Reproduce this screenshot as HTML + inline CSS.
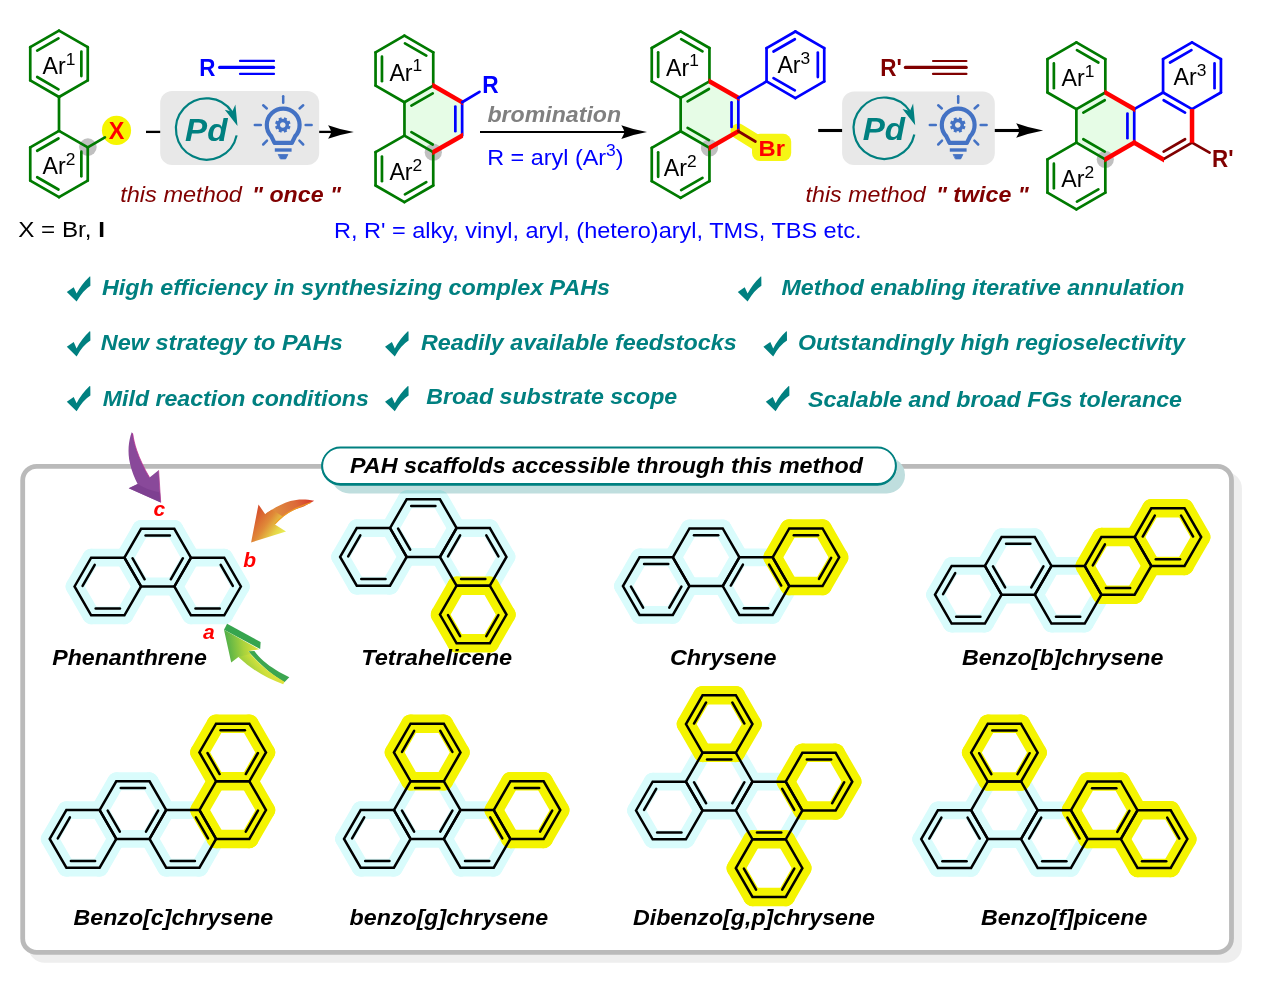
<!DOCTYPE html>
<html><head><meta charset="utf-8"><title>PAH annulation</title>
<style>
html,body{margin:0;padding:0;background:#fff;}
body{width:1266px;height:994px;overflow:hidden;font-family:"Liberation Sans",sans-serif;}
svg{display:block;}
text{white-space:pre;}
</style></head><body>
<svg width="1266" height="994" viewBox="0 0 1266 994">
<defs>
<linearGradient id="gOr" x1="1" y1="0" x2="0" y2="1"><stop offset="0" stop-color="#d8432a"/><stop offset="0.5" stop-color="#e58a30"/><stop offset="1" stop-color="#e8d53c"/></linearGradient>
<linearGradient id="gGr" x1="0" y1="0" x2="1" y2="1"><stop offset="0" stop-color="#3fa43c"/><stop offset="0.45" stop-color="#d6e23a"/><stop offset="1" stop-color="#2f9e44"/></linearGradient>
<linearGradient id="gPu" x1="0" y1="0" x2="1" y2="1"><stop offset="0" stop-color="#8a4a9a"/><stop offset="1" stop-color="#7d4390"/></linearGradient>
</defs>
<rect width="1266" height="994" fill="#fff"/>
<circle cx="87.9" cy="147.1" r="8.8" fill="#c0c0c0"/>
<circle cx="116.5" cy="130.4" r="14.6" fill="#f6f600"/>
<line x1="59" y1="30.6" x2="87.75" y2="47.2" stroke="#007a00" stroke-width="2.7" stroke-linecap="round" />
<line x1="87.75" y1="47.2" x2="87.75" y2="80.4" stroke="#007a00" stroke-width="2.7" stroke-linecap="round" />
<line x1="87.75" y1="80.4" x2="59" y2="97" stroke="#007a00" stroke-width="2.7" stroke-linecap="round" />
<line x1="59" y1="97" x2="30.25" y2="80.4" stroke="#007a00" stroke-width="2.7" stroke-linecap="round" />
<line x1="30.25" y1="80.4" x2="30.25" y2="47.2" stroke="#007a00" stroke-width="2.7" stroke-linecap="round" />
<line x1="30.25" y1="47.2" x2="59" y2="30.6" stroke="#007a00" stroke-width="2.7" stroke-linecap="round" />
<line x1="81.35" y1="51.52" x2="81.35" y2="76.08" stroke="#007a00" stroke-width="2.7" stroke-linecap="round" />
<line x1="58.46" y1="89.3" x2="37.19" y2="77.02" stroke="#007a00" stroke-width="2.7" stroke-linecap="round" />
<line x1="37.19" y1="50.58" x2="58.46" y2="38.3" stroke="#007a00" stroke-width="2.7" stroke-linecap="round" />
<line x1="59" y1="130.8" x2="87.75" y2="147.4" stroke="#007a00" stroke-width="2.7" stroke-linecap="round" />
<line x1="87.75" y1="147.4" x2="87.75" y2="180.6" stroke="#007a00" stroke-width="2.7" stroke-linecap="round" />
<line x1="87.75" y1="180.6" x2="59" y2="197.2" stroke="#007a00" stroke-width="2.7" stroke-linecap="round" />
<line x1="59" y1="197.2" x2="30.25" y2="180.6" stroke="#007a00" stroke-width="2.7" stroke-linecap="round" />
<line x1="30.25" y1="180.6" x2="30.25" y2="147.4" stroke="#007a00" stroke-width="2.7" stroke-linecap="round" />
<line x1="30.25" y1="147.4" x2="59" y2="130.8" stroke="#007a00" stroke-width="2.7" stroke-linecap="round" />
<line x1="81.35" y1="151.72" x2="81.35" y2="176.28" stroke="#007a00" stroke-width="2.7" stroke-linecap="round" />
<line x1="58.46" y1="189.5" x2="37.19" y2="177.22" stroke="#007a00" stroke-width="2.7" stroke-linecap="round" />
<line x1="37.19" y1="150.78" x2="58.46" y2="138.5" stroke="#007a00" stroke-width="2.7" stroke-linecap="round" />
<line x1="59" y1="97" x2="59" y2="130.8" stroke="#007a00" stroke-width="2.7" stroke-linecap="round" />
<line x1="87.75" y1="147.4" x2="104.9" y2="137.4" stroke="#007a00" stroke-width="2.7" stroke-linecap="round" />
<text x="116.55" y="139" font-family="Liberation Sans, sans-serif" font-size="23.4" fill="#ff0000" font-weight="bold" font-style="normal" text-anchor="middle" >X</text>
<text x="42.6" y="73.7" font-family="Liberation Sans, sans-serif" font-size="23.2" fill="#000">Ar<tspan dy="-9.2" font-size="17.4">1</tspan></text>
<text x="42.6" y="173.7" font-family="Liberation Sans, sans-serif" font-size="23.2" fill="#000">Ar<tspan dy="-9.2" font-size="17.4">2</tspan></text>
<text x="18.2" y="236.7" font-family="Liberation Sans, sans-serif" font-size="21.8" fill="#000" textLength="86.8" lengthAdjust="spacingAndGlyphs">X = Br, <tspan font-weight="bold">I</tspan></text>
<line x1="146" y1="131.9" x2="161" y2="131.9" stroke="#000" stroke-width="2.3" stroke-linecap="butt" />
<line x1="318" y1="131.9" x2="333" y2="131.9" stroke="#000" stroke-width="2.3" stroke-linecap="butt" />
<path d="M353.8,132 Q339.67,129.4 328.1,125.15 Q330.66,129.26 331.3,132 Q330.66,134.74 328.1,138.85 Q339.67,134.6 353.8,132 Z" fill="#000"/>
<rect x="160.2" y="91" width="159" height="73.9" rx="12" ry="12" fill="#e8e8e8"/>
<path d="M236.63,135.38 A30.7,30.7 0 1 1 232.35,112.28" fill="none" stroke="#008080" stroke-width="2.2"/>
<path d="M237.5,126 L235.4,104.4 L232.2,111.7 L224.8,109.8 Z" fill="#008080"/>
<text x="185" y="140.7" font-family="Liberation Sans, sans-serif" font-size="30.5" fill="#008080" font-weight="bold" font-style="italic" text-anchor="start"  textLength="42.4" lengthAdjust="spacingAndGlyphs">Pd</text>
<g transform="translate(283.2,124.1) scale(1.0)" fill="none" stroke="#4472c4" stroke-linecap="round">
<g stroke-width="2.5">
<line x1="0" y1="-27.8" x2="0" y2="-21.4"/>
<line x1="-20" y1="-18.8" x2="-16.4" y2="-15.6"/>
<line x1="20" y1="-18.8" x2="16.4" y2="-15.6"/>
<line x1="-28.4" y1="0.9" x2="-22.4" y2="0.9"/>
<line x1="28.4" y1="0.9" x2="22.4" y2="0.9"/>
<line x1="-20" y1="20.4" x2="-16.2" y2="16.6"/>
<line x1="20" y1="20.4" x2="16.2" y2="16.6"/>
</g>
<path d="M-8.7,18.8 L8.7,18.8 L11.9,12.2 A16.4,16.4 0 1 0 -11.9,12.2 Z" stroke-width="4.2" stroke-linejoin="round"/>
<line x1="-8.4" y1="25.9" x2="8.4" y2="25.9" stroke-width="3.4" stroke-linecap="butt"/>
<path d="M-4.7,30.4 L4.7,30.4 L2.5,34.8 L-2.5,34.8 Z" fill="#4472c4" stroke="#4472c4" stroke-width="0.8" stroke-linejoin="round"/>
<circle cx="-0.4" cy="0.9" r="4.5" stroke-width="3.4"/>
<line x1="4.59" y1="2.97" x2="6.81" y2="3.88" stroke-width="3.1" stroke-linecap="butt"/>
<line x1="1.67" y1="5.89" x2="2.58" y2="8.11" stroke-width="3.1" stroke-linecap="butt"/>
<line x1="-2.47" y1="5.89" x2="-3.38" y2="8.11" stroke-width="3.1" stroke-linecap="butt"/>
<line x1="-5.39" y1="2.97" x2="-7.61" y2="3.88" stroke-width="3.1" stroke-linecap="butt"/>
<line x1="-5.39" y1="-1.17" x2="-7.61" y2="-2.08" stroke-width="3.1" stroke-linecap="butt"/>
<line x1="-2.47" y1="-4.09" x2="-3.38" y2="-6.31" stroke-width="3.1" stroke-linecap="butt"/>
<line x1="1.67" y1="-4.09" x2="2.58" y2="-6.31" stroke-width="3.1" stroke-linecap="butt"/>
<line x1="4.59" y1="-1.17" x2="6.81" y2="-2.08" stroke-width="3.1" stroke-linecap="butt"/>
</g>
<text x="199.2" y="75.7" font-family="Liberation Sans, sans-serif" font-size="24" fill="#0000ff" font-weight="bold" font-style="normal" text-anchor="start"  textLength="16.2" lengthAdjust="spacingAndGlyphs">R</text>
<line x1="219.6" y1="67.4" x2="273.6" y2="67.4" stroke="#0000ff" stroke-width="3.1" stroke-linecap="round" />
<line x1="240" y1="60.9" x2="274" y2="60.9" stroke="#0000ff" stroke-width="2.2" stroke-linecap="round" />
<line x1="240" y1="73.9" x2="274" y2="73.9" stroke="#0000ff" stroke-width="2.2" stroke-linecap="round" />
<text x="120.2" y="202.2" font-family="Liberation Sans, sans-serif" font-size="21.5" fill="#800000" font-weight="normal" font-style="italic" text-anchor="start"  textLength="121.8" lengthAdjust="spacingAndGlyphs">this method</text>
<text x="252" y="202.2" font-family="Liberation Sans, sans-serif" font-size="21.5" fill="#800000" font-weight="bold" font-style="italic" text-anchor="start"  textLength="89" lengthAdjust="spacingAndGlyphs">" once "</text>
<polygon points="433.3,85.6 462.14,102.25 462.14,135.55 433.3,152.2 404.46,135.55 404.46,102.25" fill="#e6fce6"/>
<circle cx="433.3" cy="152.2" r="8.6" fill="#c0c0c0"/>
<line x1="404.4" y1="35.65" x2="433.24" y2="52.3" stroke="#007a00" stroke-width="2.7" stroke-linecap="round" />
<line x1="433.24" y1="52.3" x2="433.24" y2="85.6" stroke="#007a00" stroke-width="2.7" stroke-linecap="round" />
<line x1="433.24" y1="85.6" x2="404.4" y2="102.25" stroke="#007a00" stroke-width="2.7" stroke-linecap="round" />
<line x1="404.4" y1="102.25" x2="375.56" y2="85.6" stroke="#007a00" stroke-width="2.7" stroke-linecap="round" />
<line x1="375.56" y1="85.6" x2="375.56" y2="52.3" stroke="#007a00" stroke-width="2.7" stroke-linecap="round" />
<line x1="375.56" y1="52.3" x2="404.4" y2="35.65" stroke="#007a00" stroke-width="2.7" stroke-linecap="round" />
<line x1="404.95" y1="43.36" x2="426.29" y2="55.68" stroke="#007a00" stroke-width="2.7" stroke-linecap="round" />
<line x1="381.96" y1="81.27" x2="381.96" y2="56.63" stroke="#007a00" stroke-width="2.7" stroke-linecap="round" />
<line x1="404.4" y1="135.55" x2="433.24" y2="152.2" stroke="#007a00" stroke-width="2.7" stroke-linecap="round" />
<line x1="433.24" y1="152.2" x2="433.24" y2="185.5" stroke="#007a00" stroke-width="2.7" stroke-linecap="round" />
<line x1="433.24" y1="185.5" x2="404.4" y2="202.15" stroke="#007a00" stroke-width="2.7" stroke-linecap="round" />
<line x1="404.4" y1="202.15" x2="375.56" y2="185.5" stroke="#007a00" stroke-width="2.7" stroke-linecap="round" />
<line x1="375.56" y1="185.5" x2="375.56" y2="152.2" stroke="#007a00" stroke-width="2.7" stroke-linecap="round" />
<line x1="375.56" y1="152.2" x2="404.4" y2="135.55" stroke="#007a00" stroke-width="2.7" stroke-linecap="round" />
<line x1="426.29" y1="182.12" x2="404.95" y2="194.44" stroke="#007a00" stroke-width="2.7" stroke-linecap="round" />
<line x1="381.96" y1="181.17" x2="381.96" y2="156.53" stroke="#007a00" stroke-width="2.7" stroke-linecap="round" />
<line x1="404.46" y1="135.55" x2="404.46" y2="102.25" stroke="#007a00" stroke-width="2.7" stroke-linecap="round" />
<line x1="411.41" y1="105.63" x2="432.75" y2="93.31" stroke="#007a00" stroke-width="2.7" stroke-linecap="round" />
<line x1="432.75" y1="144.49" x2="411.41" y2="132.17" stroke="#007a00" stroke-width="2.7" stroke-linecap="round" />
<line x1="462.14" y1="102.25" x2="462.14" y2="135.55" stroke="#0000ff" stroke-width="2.7" stroke-linecap="round" />
<line x1="455.34" y1="106.58" x2="455.34" y2="131.22" stroke="#0000ff" stroke-width="2.7" stroke-linecap="round" />
<polygon points="432.4,82.48 463.04,100.17 463.04,105.37 432.4,87.68" fill="#ff0000"/>
<polygon points="463.04,132.43 432.4,150.12 432.4,155.32 463.04,137.63" fill="#ff0000"/>
<line x1="462.14" y1="102.25" x2="479.5" y2="91.8" stroke="#0000ff" stroke-width="2.7" stroke-linecap="round" />
<text x="482.2" y="93.4" font-family="Liberation Sans, sans-serif" font-size="24" fill="#0000ff" font-weight="bold" font-style="normal" text-anchor="start"  textLength="16.4" lengthAdjust="spacingAndGlyphs">R</text>
<text x="389.4" y="80.5" font-family="Liberation Sans, sans-serif" font-size="23.2" fill="#000">Ar<tspan dy="-9.2" font-size="17.4">1</tspan></text>
<text x="389.4" y="180" font-family="Liberation Sans, sans-serif" font-size="23.2" fill="#000">Ar<tspan dy="-9.2" font-size="17.4">2</tspan></text>
<line x1="480" y1="132" x2="626" y2="132" stroke="#000" stroke-width="2.2" stroke-linecap="butt" />
<path d="M647,132.1 Q632.87,129.5 621.3,125.25 Q623.86,129.36 624.5,132.1 Q623.86,134.84 621.3,138.95 Q632.87,134.7 647,132.1 Z" fill="#000"/>
<text x="487.5" y="121.7" font-family="Liberation Sans, sans-serif" font-size="21.3" fill="#808080" font-weight="bold" font-style="italic" text-anchor="start"  textLength="133.6" lengthAdjust="spacingAndGlyphs">bromination</text>
<text x="487.2" y="164.9" font-family="Liberation Sans, sans-serif" font-size="22.3" fill="#0000ff" textLength="136.4" lengthAdjust="spacingAndGlyphs">R = aryl (Ar<tspan dy="-8.6" font-size="16.6">3</tspan><tspan dy="8.6">)</tspan></text>
<polygon points="709.5,81.3 738.34,97.95 738.34,131.25 709.5,147.9 680.66,131.25 680.66,97.95" fill="#e6fce6"/>
<line x1="738.34" y1="131.25" x2="762" y2="146" stroke="#f6f614" stroke-width="15.5" stroke-linecap="round"/>
<rect x="752" y="133.8" width="39.2" height="27.2" rx="8" ry="8" fill="#f6f614"/>
<circle cx="709.5" cy="147.9" r="8.6" fill="#c0c0c0"/>
<line x1="680.6" y1="31.35" x2="709.44" y2="48" stroke="#007a00" stroke-width="2.7" stroke-linecap="round" />
<line x1="709.44" y1="48" x2="709.44" y2="81.3" stroke="#007a00" stroke-width="2.7" stroke-linecap="round" />
<line x1="709.44" y1="81.3" x2="680.6" y2="97.95" stroke="#007a00" stroke-width="2.7" stroke-linecap="round" />
<line x1="680.6" y1="97.95" x2="651.76" y2="81.3" stroke="#007a00" stroke-width="2.7" stroke-linecap="round" />
<line x1="651.76" y1="81.3" x2="651.76" y2="48" stroke="#007a00" stroke-width="2.7" stroke-linecap="round" />
<line x1="651.76" y1="48" x2="680.6" y2="31.35" stroke="#007a00" stroke-width="2.7" stroke-linecap="round" />
<line x1="681.15" y1="39.06" x2="702.49" y2="51.38" stroke="#007a00" stroke-width="2.7" stroke-linecap="round" />
<line x1="658.16" y1="76.97" x2="658.16" y2="52.33" stroke="#007a00" stroke-width="2.7" stroke-linecap="round" />
<line x1="680.6" y1="131.25" x2="709.44" y2="147.9" stroke="#007a00" stroke-width="2.7" stroke-linecap="round" />
<line x1="709.44" y1="147.9" x2="709.44" y2="181.2" stroke="#007a00" stroke-width="2.7" stroke-linecap="round" />
<line x1="709.44" y1="181.2" x2="680.6" y2="197.85" stroke="#007a00" stroke-width="2.7" stroke-linecap="round" />
<line x1="680.6" y1="197.85" x2="651.76" y2="181.2" stroke="#007a00" stroke-width="2.7" stroke-linecap="round" />
<line x1="651.76" y1="181.2" x2="651.76" y2="147.9" stroke="#007a00" stroke-width="2.7" stroke-linecap="round" />
<line x1="651.76" y1="147.9" x2="680.6" y2="131.25" stroke="#007a00" stroke-width="2.7" stroke-linecap="round" />
<line x1="702.49" y1="177.82" x2="681.15" y2="190.14" stroke="#007a00" stroke-width="2.7" stroke-linecap="round" />
<line x1="658.16" y1="176.87" x2="658.16" y2="152.23" stroke="#007a00" stroke-width="2.7" stroke-linecap="round" />
<line x1="680.66" y1="131.25" x2="680.66" y2="97.95" stroke="#007a00" stroke-width="2.7" stroke-linecap="round" />
<line x1="687.61" y1="101.33" x2="708.95" y2="89.01" stroke="#007a00" stroke-width="2.7" stroke-linecap="round" />
<line x1="708.95" y1="140.19" x2="687.61" y2="127.87" stroke="#007a00" stroke-width="2.7" stroke-linecap="round" />
<line x1="738.34" y1="97.95" x2="738.34" y2="131.25" stroke="#0000ff" stroke-width="2.7" stroke-linecap="round" />
<line x1="731.54" y1="102.28" x2="731.54" y2="126.92" stroke="#0000ff" stroke-width="2.7" stroke-linecap="round" />
<polygon points="708.6,78.18 739.24,95.87 739.24,101.07 708.6,83.38" fill="#ff0000"/>
<polygon points="739.24,128.13 708.6,145.82 708.6,151.02 739.24,133.33" fill="#ff0000"/>
<line x1="738.34" y1="131.25" x2="755.4" y2="141.5" stroke="#800000" stroke-width="2.7" stroke-linecap="round" />
<text x="758.6" y="155.9" font-family="Liberation Sans, sans-serif" font-size="22.6" fill="#ff0000" font-weight="bold" font-style="normal" text-anchor="start"  textLength="26.4" lengthAdjust="spacingAndGlyphs">Br</text>
<line x1="795.4" y1="31.5" x2="824.24" y2="48.15" stroke="#0000ff" stroke-width="2.7" stroke-linecap="round" />
<line x1="824.24" y1="48.15" x2="824.24" y2="81.45" stroke="#0000ff" stroke-width="2.7" stroke-linecap="round" />
<line x1="824.24" y1="81.45" x2="795.4" y2="98.1" stroke="#0000ff" stroke-width="2.7" stroke-linecap="round" />
<line x1="795.4" y1="98.1" x2="766.56" y2="81.45" stroke="#0000ff" stroke-width="2.7" stroke-linecap="round" />
<line x1="766.56" y1="81.45" x2="766.56" y2="48.15" stroke="#0000ff" stroke-width="2.7" stroke-linecap="round" />
<line x1="766.56" y1="48.15" x2="795.4" y2="31.5" stroke="#0000ff" stroke-width="2.7" stroke-linecap="round" />
<line x1="817.84" y1="52.48" x2="817.84" y2="77.12" stroke="#0000ff" stroke-width="2.7" stroke-linecap="round" />
<line x1="794.85" y1="90.39" x2="773.51" y2="78.07" stroke="#0000ff" stroke-width="2.7" stroke-linecap="round" />
<line x1="773.51" y1="51.53" x2="794.85" y2="39.21" stroke="#0000ff" stroke-width="2.7" stroke-linecap="round" />
<line x1="738.34" y1="97.95" x2="766.56" y2="81.45" stroke="#0000ff" stroke-width="2.7" stroke-linecap="round" />
<text x="666.1" y="75.5" font-family="Liberation Sans, sans-serif" font-size="23.2" fill="#000">Ar<tspan dy="-9.2" font-size="17.4">1</tspan></text>
<text x="663.8" y="175.8" font-family="Liberation Sans, sans-serif" font-size="23.2" fill="#000">Ar<tspan dy="-9.2" font-size="17.4">2</tspan></text>
<text x="777.4" y="73.2" font-family="Liberation Sans, sans-serif" font-size="23.2" fill="#000">Ar<tspan dy="-9.2" font-size="17.4">3</tspan></text>
<line x1="818.2" y1="130.5" x2="843" y2="130.5" stroke="#000" stroke-width="3.1" stroke-linecap="butt" />
<line x1="994" y1="130.5" x2="1021" y2="130.5" stroke="#000" stroke-width="3.1" stroke-linecap="butt" />
<path d="M1043.2,130.5 Q1028.35,127.73 1016.2,123.2 Q1018.84,127.58 1019.5,130.5 Q1018.84,133.42 1016.2,137.8 Q1028.35,133.27 1043.2,130.5 Z" fill="#000"/>
<rect x="842.1" y="91.5" width="152.7" height="73.4" rx="12" ry="12" fill="#e8e8e8"/>
<path d="M914.33,134.58 A30.7,30.7 0 1 1 910.05,111.48" fill="none" stroke="#008080" stroke-width="2.2"/>
<path d="M915.2,125.2 L913.1,103.6 L909.9,110.9 L902.5,109 Z" fill="#008080"/>
<text x="862.7" y="139.9" font-family="Liberation Sans, sans-serif" font-size="30.5" fill="#008080" font-weight="bold" font-style="italic" text-anchor="start"  textLength="42.4" lengthAdjust="spacingAndGlyphs">Pd</text>
<g transform="translate(958.2,124.1) scale(1.0)" fill="none" stroke="#4472c4" stroke-linecap="round">
<g stroke-width="2.5">
<line x1="0" y1="-27.8" x2="0" y2="-21.4"/>
<line x1="-20" y1="-18.8" x2="-16.4" y2="-15.6"/>
<line x1="20" y1="-18.8" x2="16.4" y2="-15.6"/>
<line x1="-28.4" y1="0.9" x2="-22.4" y2="0.9"/>
<line x1="28.4" y1="0.9" x2="22.4" y2="0.9"/>
<line x1="-20" y1="20.4" x2="-16.2" y2="16.6"/>
<line x1="20" y1="20.4" x2="16.2" y2="16.6"/>
</g>
<path d="M-8.7,18.8 L8.7,18.8 L11.9,12.2 A16.4,16.4 0 1 0 -11.9,12.2 Z" stroke-width="4.2" stroke-linejoin="round"/>
<line x1="-8.4" y1="25.9" x2="8.4" y2="25.9" stroke-width="3.4" stroke-linecap="butt"/>
<path d="M-4.7,30.4 L4.7,30.4 L2.5,34.8 L-2.5,34.8 Z" fill="#4472c4" stroke="#4472c4" stroke-width="0.8" stroke-linejoin="round"/>
<circle cx="-0.4" cy="0.9" r="4.5" stroke-width="3.4"/>
<line x1="4.59" y1="2.97" x2="6.81" y2="3.88" stroke-width="3.1" stroke-linecap="butt"/>
<line x1="1.67" y1="5.89" x2="2.58" y2="8.11" stroke-width="3.1" stroke-linecap="butt"/>
<line x1="-2.47" y1="5.89" x2="-3.38" y2="8.11" stroke-width="3.1" stroke-linecap="butt"/>
<line x1="-5.39" y1="2.97" x2="-7.61" y2="3.88" stroke-width="3.1" stroke-linecap="butt"/>
<line x1="-5.39" y1="-1.17" x2="-7.61" y2="-2.08" stroke-width="3.1" stroke-linecap="butt"/>
<line x1="-2.47" y1="-4.09" x2="-3.38" y2="-6.31" stroke-width="3.1" stroke-linecap="butt"/>
<line x1="1.67" y1="-4.09" x2="2.58" y2="-6.31" stroke-width="3.1" stroke-linecap="butt"/>
<line x1="4.59" y1="-1.17" x2="6.81" y2="-2.08" stroke-width="3.1" stroke-linecap="butt"/>
</g>
<text x="880.2" y="75.9" font-family="Liberation Sans, sans-serif" font-size="24" fill="#800000" font-weight="bold" font-style="normal" text-anchor="start"  textLength="21.6" lengthAdjust="spacingAndGlyphs">R'</text>
<line x1="905.4" y1="67.4" x2="966.2" y2="67.4" stroke="#800000" stroke-width="3.2" stroke-linecap="round" />
<line x1="933" y1="61" x2="966.4" y2="61" stroke="#800000" stroke-width="2.2" stroke-linecap="round" />
<line x1="933" y1="73.9" x2="966.4" y2="73.9" stroke="#800000" stroke-width="2.2" stroke-linecap="round" />
<text x="805.6" y="201.5" font-family="Liberation Sans, sans-serif" font-size="21.5" fill="#800000" font-weight="normal" font-style="italic" text-anchor="start"  textLength="120" lengthAdjust="spacingAndGlyphs">this method</text>
<text x="935.9" y="201.5" font-family="Liberation Sans, sans-serif" font-size="21.5" fill="#800000" font-weight="bold" font-style="italic" text-anchor="start"  textLength="92.8" lengthAdjust="spacingAndGlyphs">" twice "</text>
<polygon points="1105.3,92.5 1134.23,109.2 1134.23,142.6 1105.3,159.3 1076.37,142.6 1076.37,109.2" fill="#e6fce6"/>
<circle cx="1105.3" cy="159.3" r="8.6" fill="#c0c0c0"/>
<line x1="1076.4" y1="42.4" x2="1105.33" y2="59.1" stroke="#007a00" stroke-width="2.7" stroke-linecap="round" />
<line x1="1105.33" y1="59.1" x2="1105.33" y2="92.5" stroke="#007a00" stroke-width="2.7" stroke-linecap="round" />
<line x1="1105.33" y1="92.5" x2="1076.4" y2="109.2" stroke="#007a00" stroke-width="2.7" stroke-linecap="round" />
<line x1="1076.4" y1="109.2" x2="1047.47" y2="92.5" stroke="#007a00" stroke-width="2.7" stroke-linecap="round" />
<line x1="1047.47" y1="92.5" x2="1047.47" y2="59.1" stroke="#007a00" stroke-width="2.7" stroke-linecap="round" />
<line x1="1047.47" y1="59.1" x2="1076.4" y2="42.4" stroke="#007a00" stroke-width="2.7" stroke-linecap="round" />
<line x1="1076.96" y1="50.11" x2="1098.36" y2="62.47" stroke="#007a00" stroke-width="2.7" stroke-linecap="round" />
<line x1="1053.87" y1="88.16" x2="1053.87" y2="63.44" stroke="#007a00" stroke-width="2.7" stroke-linecap="round" />
<line x1="1076.4" y1="142.6" x2="1105.33" y2="159.3" stroke="#007a00" stroke-width="2.7" stroke-linecap="round" />
<line x1="1105.33" y1="159.3" x2="1105.33" y2="192.7" stroke="#007a00" stroke-width="2.7" stroke-linecap="round" />
<line x1="1105.33" y1="192.7" x2="1076.4" y2="209.4" stroke="#007a00" stroke-width="2.7" stroke-linecap="round" />
<line x1="1076.4" y1="209.4" x2="1047.47" y2="192.7" stroke="#007a00" stroke-width="2.7" stroke-linecap="round" />
<line x1="1047.47" y1="192.7" x2="1047.47" y2="159.3" stroke="#007a00" stroke-width="2.7" stroke-linecap="round" />
<line x1="1047.47" y1="159.3" x2="1076.4" y2="142.6" stroke="#007a00" stroke-width="2.7" stroke-linecap="round" />
<line x1="1098.36" y1="189.33" x2="1076.96" y2="201.69" stroke="#007a00" stroke-width="2.7" stroke-linecap="round" />
<line x1="1053.87" y1="188.36" x2="1053.87" y2="163.64" stroke="#007a00" stroke-width="2.7" stroke-linecap="round" />
<line x1="1076.37" y1="142.6" x2="1076.37" y2="109.2" stroke="#007a00" stroke-width="2.7" stroke-linecap="round" />
<line x1="1083.34" y1="112.57" x2="1104.74" y2="100.21" stroke="#007a00" stroke-width="2.7" stroke-linecap="round" />
<line x1="1104.74" y1="151.59" x2="1083.34" y2="139.23" stroke="#007a00" stroke-width="2.7" stroke-linecap="round" />
<line x1="1192" y1="42.4" x2="1220.93" y2="59.1" stroke="#0000ff" stroke-width="2.7" stroke-linecap="round" />
<line x1="1220.93" y1="59.1" x2="1220.93" y2="92.5" stroke="#0000ff" stroke-width="2.7" stroke-linecap="round" />
<line x1="1220.93" y1="92.5" x2="1192" y2="109.2" stroke="#0000ff" stroke-width="2.7" stroke-linecap="round" />
<line x1="1192" y1="109.2" x2="1163.07" y2="92.5" stroke="#0000ff" stroke-width="2.7" stroke-linecap="round" />
<line x1="1163.07" y1="92.5" x2="1163.07" y2="59.1" stroke="#0000ff" stroke-width="2.7" stroke-linecap="round" />
<line x1="1163.07" y1="59.1" x2="1192" y2="42.4" stroke="#0000ff" stroke-width="2.7" stroke-linecap="round" />
<line x1="1214.53" y1="63.44" x2="1214.53" y2="88.16" stroke="#0000ff" stroke-width="2.7" stroke-linecap="round" />
<line x1="1170.04" y1="62.47" x2="1191.44" y2="50.11" stroke="#0000ff" stroke-width="2.7" stroke-linecap="round" />
<line x1="1134.23" y1="109.2" x2="1134.23" y2="142.6" stroke="#0000ff" stroke-width="2.7" stroke-linecap="round" />
<line x1="1127.43" y1="113.54" x2="1127.43" y2="138.26" stroke="#0000ff" stroke-width="2.7" stroke-linecap="round" />
<line x1="1134.17" y1="109.2" x2="1163.1" y2="92.5" stroke="#0000ff" stroke-width="2.7" stroke-linecap="round" />
<line x1="1163.66" y1="100.21" x2="1185.06" y2="112.57" stroke="#0000ff" stroke-width="2.7" stroke-linecap="round" />
<line x1="1192.03" y1="142.6" x2="1163.1" y2="159.3" stroke="#800000" stroke-width="2.7" stroke-linecap="round" />
<line x1="1185.06" y1="139.23" x2="1163.66" y2="151.59" stroke="#800000" stroke-width="2.7" stroke-linecap="round" />
<line x1="1192.03" y1="142.6" x2="1209.6" y2="152.7" stroke="#800000" stroke-width="2.7" stroke-linecap="round" />
<polygon points="1104.4,89.38 1135.13,107.12 1135.13,112.32 1104.4,94.58" fill="#ff0000"/>
<polygon points="1135.13,139.48 1104.4,157.22 1104.4,162.42 1135.13,144.68" fill="#ff0000"/>
<polygon points="1164,157.22 1133.27,139.48 1133.27,144.68 1164,162.42" fill="#ff0000"/>
<line x1="1192.03" y1="109" x2="1192.03" y2="142.8" stroke="#ff0000" stroke-width="4.5" stroke-linecap="butt" />
<text x="1212.1" y="166.9" font-family="Liberation Sans, sans-serif" font-size="23" fill="#800000" font-weight="bold" font-style="normal" text-anchor="start"  textLength="21.5" lengthAdjust="spacingAndGlyphs">R'</text>
<text x="1061.6" y="85.9" font-family="Liberation Sans, sans-serif" font-size="23.2" fill="#000">Ar<tspan dy="-9.2" font-size="17.4">1</tspan></text>
<text x="1061.2" y="186.9" font-family="Liberation Sans, sans-serif" font-size="23.2" fill="#000">Ar<tspan dy="-9.2" font-size="17.4">2</tspan></text>
<text x="1173.5" y="84.8" font-family="Liberation Sans, sans-serif" font-size="23.2" fill="#000">Ar<tspan dy="-9.2" font-size="17.4">3</tspan></text>
<text x="334" y="237.7" font-family="Liberation Sans, sans-serif" font-size="21.7" fill="#0000ff" font-weight="normal" font-style="normal" text-anchor="start"  textLength="527.5" lengthAdjust="spacingAndGlyphs">R, R' = alky, vinyl, aryl, (hetero)aryl, TMS, TBS etc.</text>
<path transform="translate(66.8,276.6) scale(1.0)" d="M0,15.4 L6.9,10.6 L9.8,17 Q14.6,7.6 22.9,-0.2 L23.5,0 L23.6,9.2 Q16.4,13.6 9.8,25 Z" fill="#008080"/>
<text x="102" y="294.8" font-family="Liberation Sans, sans-serif" font-size="22" fill="#008080" font-weight="bold" font-style="italic" text-anchor="start"  textLength="508" lengthAdjust="spacingAndGlyphs">High efficiency in synthesizing complex PAHs</text>
<path transform="translate(737.8,276.6) scale(1.0)" d="M0,15.4 L6.9,10.6 L9.8,17 Q14.6,7.6 22.9,-0.2 L23.5,0 L23.6,9.2 Q16.4,13.6 9.8,25 Z" fill="#008080"/>
<text x="781.5" y="294.8" font-family="Liberation Sans, sans-serif" font-size="22" fill="#008080" font-weight="bold" font-style="italic" text-anchor="start"  textLength="403" lengthAdjust="spacingAndGlyphs">Method enabling iterative annulation</text>
<path transform="translate(66.8,331.4) scale(1.0)" d="M0,15.4 L6.9,10.6 L9.8,17 Q14.6,7.6 22.9,-0.2 L23.5,0 L23.6,9.2 Q16.4,13.6 9.8,25 Z" fill="#008080"/>
<text x="100.8" y="349.6" font-family="Liberation Sans, sans-serif" font-size="22" fill="#008080" font-weight="bold" font-style="italic" text-anchor="start"  textLength="242" lengthAdjust="spacingAndGlyphs">New strategy to PAHs</text>
<path transform="translate(385,331.4) scale(1.0)" d="M0,15.4 L6.9,10.6 L9.8,17 Q14.6,7.6 22.9,-0.2 L23.5,0 L23.6,9.2 Q16.4,13.6 9.8,25 Z" fill="#008080"/>
<text x="421" y="349.6" font-family="Liberation Sans, sans-serif" font-size="22" fill="#008080" font-weight="bold" font-style="italic" text-anchor="start"  textLength="315.6" lengthAdjust="spacingAndGlyphs">Readily available feedstocks</text>
<path transform="translate(763.4,331.4) scale(1.0)" d="M0,15.4 L6.9,10.6 L9.8,17 Q14.6,7.6 22.9,-0.2 L23.5,0 L23.6,9.2 Q16.4,13.6 9.8,25 Z" fill="#008080"/>
<text x="797.9" y="349.6" font-family="Liberation Sans, sans-serif" font-size="22" fill="#008080" font-weight="bold" font-style="italic" text-anchor="start"  textLength="387" lengthAdjust="spacingAndGlyphs">Outstandingly high regioselectivity</text>
<path transform="translate(66.8,386.3) scale(1.0)" d="M0,15.4 L6.9,10.6 L9.8,17 Q14.6,7.6 22.9,-0.2 L23.5,0 L23.6,9.2 Q16.4,13.6 9.8,25 Z" fill="#008080"/>
<text x="102.8" y="406" font-family="Liberation Sans, sans-serif" font-size="22" fill="#008080" font-weight="bold" font-style="italic" text-anchor="start"  textLength="266" lengthAdjust="spacingAndGlyphs">Mild reaction conditions</text>
<path transform="translate(385,386.3) scale(1.0)" d="M0,15.4 L6.9,10.6 L9.8,17 Q14.6,7.6 22.9,-0.2 L23.5,0 L23.6,9.2 Q16.4,13.6 9.8,25 Z" fill="#008080"/>
<text x="426.2" y="403.7" font-family="Liberation Sans, sans-serif" font-size="22" fill="#008080" font-weight="bold" font-style="italic" text-anchor="start"  textLength="251" lengthAdjust="spacingAndGlyphs">Broad substrate scope</text>
<path transform="translate(765.8,386.3) scale(1.0)" d="M0,15.4 L6.9,10.6 L9.8,17 Q14.6,7.6 22.9,-0.2 L23.5,0 L23.6,9.2 Q16.4,13.6 9.8,25 Z" fill="#008080"/>
<text x="808" y="406.7" font-family="Liberation Sans, sans-serif" font-size="22" fill="#008080" font-weight="bold" font-style="italic" text-anchor="start"  textLength="374" lengthAdjust="spacingAndGlyphs">Scalable and broad FGs tolerance</text>
<rect x="28.3" y="471.9" width="1213.6" height="490.9" rx="16.4" ry="16.4" fill="#eeeeee"/>
<rect x="22.7" y="466.3" width="1208.8" height="486.1" rx="14" ry="14" fill="#fff" stroke="#bababa" stroke-width="4.8"/>
<rect x="331" y="456.8" width="574" height="36.6" rx="18.3" ry="18.3" fill="#bfdede"/>
<rect x="322.2" y="448.4" width="573.6" height="36.4" rx="18.2" ry="18.2" fill="#008080" stroke="#008080" stroke-width="1.8"/>
<rect x="322.2" y="447.5" width="573.6" height="36.4" rx="18.2" ry="18.2" fill="#fff" stroke="#008080" stroke-width="1.8"/>
<text x="350" y="473.2" font-family="Liberation Sans, sans-serif" font-size="21.3" fill="#000" font-weight="bold" font-style="italic" text-anchor="start"  textLength="513" lengthAdjust="spacingAndGlyphs">PAH scaffolds accessible through this method</text>
<g style="mix-blend-mode:multiply">
<line x1="74.53" y1="586.5" x2="91.16" y2="557.69" stroke="#d9fcfc" stroke-width="17.8" stroke-linecap="round" />
<line x1="91.16" y1="557.69" x2="124.44" y2="557.69" stroke="#d9fcfc" stroke-width="17.8" stroke-linecap="round" />
<line x1="124.44" y1="557.69" x2="141.07" y2="586.5" stroke="#d9fcfc" stroke-width="17.8" stroke-linecap="round" />
<line x1="141.07" y1="586.5" x2="124.43" y2="615.31" stroke="#d9fcfc" stroke-width="17.8" stroke-linecap="round" />
<line x1="124.43" y1="615.31" x2="91.17" y2="615.31" stroke="#d9fcfc" stroke-width="17.8" stroke-linecap="round" />
<line x1="91.17" y1="615.31" x2="74.53" y2="586.5" stroke="#d9fcfc" stroke-width="17.8" stroke-linecap="round" />
<line x1="124.43" y1="557.69" x2="141.07" y2="528.87" stroke="#d9fcfc" stroke-width="17.8" stroke-linecap="round" />
<line x1="141.07" y1="528.87" x2="174.34" y2="528.87" stroke="#d9fcfc" stroke-width="17.8" stroke-linecap="round" />
<line x1="174.34" y1="528.87" x2="190.97" y2="557.69" stroke="#d9fcfc" stroke-width="17.8" stroke-linecap="round" />
<line x1="190.97" y1="557.69" x2="174.34" y2="586.5" stroke="#d9fcfc" stroke-width="17.8" stroke-linecap="round" />
<line x1="174.34" y1="586.5" x2="141.07" y2="586.5" stroke="#d9fcfc" stroke-width="17.8" stroke-linecap="round" />
<line x1="190.97" y1="557.69" x2="224.25" y2="557.69" stroke="#d9fcfc" stroke-width="17.8" stroke-linecap="round" />
<line x1="224.25" y1="557.69" x2="240.88" y2="586.5" stroke="#d9fcfc" stroke-width="17.8" stroke-linecap="round" />
<line x1="240.88" y1="586.5" x2="224.25" y2="615.31" stroke="#d9fcfc" stroke-width="17.8" stroke-linecap="round" />
<line x1="224.25" y1="615.31" x2="190.98" y2="615.31" stroke="#d9fcfc" stroke-width="17.8" stroke-linecap="round" />
<line x1="190.98" y1="615.31" x2="174.34" y2="586.5" stroke="#d9fcfc" stroke-width="17.8" stroke-linecap="round" />
</g>
<polygon points="74.53,586.5 91.16,557.69 124.44,557.69 141.07,586.5 124.43,615.31 91.17,615.31" fill="none" stroke="#000" stroke-width="2.5" stroke-linejoin="miter"/>
<polygon points="124.43,557.69 141.07,528.87 174.34,528.87 190.97,557.69 174.34,586.5 141.07,586.5" fill="none" stroke="#000" stroke-width="2.5" stroke-linejoin="miter"/>
<polygon points="174.34,586.5 190.97,557.69 224.25,557.69 240.88,586.5 224.25,615.31 190.98,615.31" fill="none" stroke="#000" stroke-width="2.5" stroke-linejoin="miter"/>
<line x1="82.58" y1="585.96" x2="94.72" y2="564.93" stroke="#000" stroke-width="2.5" stroke-linecap="round" />
<line x1="119.94" y1="608.61" x2="95.66" y2="608.61" stroke="#000" stroke-width="2.5" stroke-linecap="round" />
<line x1="144.63" y1="579.26" x2="132.48" y2="558.23" stroke="#000" stroke-width="2.5" stroke-linecap="round" />
<line x1="145.56" y1="535.57" x2="169.85" y2="535.57" stroke="#000" stroke-width="2.5" stroke-linecap="round" />
<line x1="182.93" y1="558.23" x2="170.78" y2="579.26" stroke="#000" stroke-width="2.5" stroke-linecap="round" />
<line x1="220.69" y1="564.93" x2="232.83" y2="585.96" stroke="#000" stroke-width="2.5" stroke-linecap="round" />
<line x1="219.75" y1="608.61" x2="195.47" y2="608.61" stroke="#000" stroke-width="2.5" stroke-linecap="round" />
<g style="mix-blend-mode:multiply">
<line x1="340.13" y1="556.9" x2="356.76" y2="528.09" stroke="#d9fcfc" stroke-width="17.8" stroke-linecap="round" />
<line x1="356.76" y1="528.09" x2="390.03" y2="528.09" stroke="#d9fcfc" stroke-width="17.8" stroke-linecap="round" />
<line x1="390.03" y1="528.09" x2="406.67" y2="556.9" stroke="#d9fcfc" stroke-width="17.8" stroke-linecap="round" />
<line x1="406.67" y1="556.9" x2="390.03" y2="585.71" stroke="#d9fcfc" stroke-width="17.8" stroke-linecap="round" />
<line x1="390.03" y1="585.71" x2="356.76" y2="585.71" stroke="#d9fcfc" stroke-width="17.8" stroke-linecap="round" />
<line x1="356.76" y1="585.71" x2="340.13" y2="556.9" stroke="#d9fcfc" stroke-width="17.8" stroke-linecap="round" />
<line x1="390.03" y1="528.09" x2="406.67" y2="499.27" stroke="#d9fcfc" stroke-width="17.8" stroke-linecap="round" />
<line x1="406.67" y1="499.27" x2="439.94" y2="499.27" stroke="#d9fcfc" stroke-width="17.8" stroke-linecap="round" />
<line x1="439.94" y1="499.27" x2="456.57" y2="528.09" stroke="#d9fcfc" stroke-width="17.8" stroke-linecap="round" />
<line x1="456.57" y1="528.09" x2="439.94" y2="556.9" stroke="#d9fcfc" stroke-width="17.8" stroke-linecap="round" />
<line x1="439.94" y1="556.9" x2="406.67" y2="556.9" stroke="#d9fcfc" stroke-width="17.8" stroke-linecap="round" />
<line x1="456.57" y1="528.09" x2="489.84" y2="528.09" stroke="#d9fcfc" stroke-width="17.8" stroke-linecap="round" />
<line x1="489.84" y1="528.09" x2="506.48" y2="556.9" stroke="#d9fcfc" stroke-width="17.8" stroke-linecap="round" />
<line x1="506.48" y1="556.9" x2="489.84" y2="585.71" stroke="#d9fcfc" stroke-width="17.8" stroke-linecap="round" />
<line x1="456.57" y1="585.71" x2="439.94" y2="556.9" stroke="#d9fcfc" stroke-width="17.8" stroke-linecap="round" />
</g>
<line x1="456.57" y1="585.71" x2="489.84" y2="585.71" stroke="#f4f400" stroke-width="18.5" stroke-linecap="round" />
<line x1="439.94" y1="614.53" x2="456.57" y2="585.71" stroke="#f4f400" stroke-width="18.5" stroke-linecap="round" />
<line x1="489.84" y1="585.71" x2="506.48" y2="614.53" stroke="#f4f400" stroke-width="18.5" stroke-linecap="round" />
<line x1="506.48" y1="614.53" x2="489.84" y2="643.34" stroke="#f4f400" stroke-width="18.5" stroke-linecap="round" />
<line x1="489.84" y1="643.34" x2="456.57" y2="643.34" stroke="#f4f400" stroke-width="18.5" stroke-linecap="round" />
<line x1="456.57" y1="643.34" x2="439.94" y2="614.53" stroke="#f4f400" stroke-width="18.5" stroke-linecap="round" />
<polygon points="340.13,556.9 356.76,528.09 390.03,528.09 406.67,556.9 390.03,585.71 356.76,585.71" fill="none" stroke="#000" stroke-width="2.5" stroke-linejoin="miter"/>
<polygon points="390.03,528.09 406.67,499.27 439.94,499.27 456.57,528.09 439.94,556.9 406.67,556.9" fill="none" stroke="#000" stroke-width="2.5" stroke-linejoin="miter"/>
<polygon points="439.94,556.9 456.57,528.09 489.84,528.09 506.48,556.9 489.84,585.71 456.57,585.71" fill="none" stroke="#000" stroke-width="2.5" stroke-linejoin="miter"/>
<polygon points="439.94,614.53 456.57,585.71 489.84,585.71 506.48,614.53 489.84,643.34 456.57,643.34" fill="none" stroke="#000" stroke-width="2.5" stroke-linejoin="miter"/>
<line x1="348.18" y1="556.36" x2="360.32" y2="535.33" stroke="#000" stroke-width="2.5" stroke-linecap="round" />
<line x1="385.54" y1="579.01" x2="361.26" y2="579.01" stroke="#000" stroke-width="2.5" stroke-linecap="round" />
<line x1="410.23" y1="549.66" x2="398.08" y2="528.63" stroke="#000" stroke-width="2.5" stroke-linecap="round" />
<line x1="411.16" y1="505.97" x2="435.45" y2="505.97" stroke="#000" stroke-width="2.5" stroke-linecap="round" />
<line x1="447.99" y1="556.36" x2="460.13" y2="535.33" stroke="#000" stroke-width="2.5" stroke-linecap="round" />
<line x1="486.29" y1="535.33" x2="498.43" y2="556.36" stroke="#000" stroke-width="2.5" stroke-linecap="round" />
<line x1="485.35" y1="579.01" x2="461.07" y2="579.01" stroke="#000" stroke-width="2.5" stroke-linecap="round" />
<line x1="460.13" y1="636.1" x2="447.99" y2="615.07" stroke="#000" stroke-width="2.5" stroke-linecap="round" />
<line x1="498.43" y1="615.07" x2="486.29" y2="636.1" stroke="#000" stroke-width="2.5" stroke-linecap="round" />
<g style="mix-blend-mode:multiply">
<line x1="622.93" y1="586.1" x2="639.57" y2="557.29" stroke="#d9fcfc" stroke-width="17.8" stroke-linecap="round" />
<line x1="639.57" y1="557.29" x2="672.84" y2="557.29" stroke="#d9fcfc" stroke-width="17.8" stroke-linecap="round" />
<line x1="672.84" y1="557.29" x2="689.47" y2="586.1" stroke="#d9fcfc" stroke-width="17.8" stroke-linecap="round" />
<line x1="689.47" y1="586.1" x2="672.84" y2="614.91" stroke="#d9fcfc" stroke-width="17.8" stroke-linecap="round" />
<line x1="672.84" y1="614.91" x2="639.57" y2="614.91" stroke="#d9fcfc" stroke-width="17.8" stroke-linecap="round" />
<line x1="639.57" y1="614.91" x2="622.93" y2="586.1" stroke="#d9fcfc" stroke-width="17.8" stroke-linecap="round" />
<line x1="672.84" y1="557.29" x2="689.47" y2="528.47" stroke="#d9fcfc" stroke-width="17.8" stroke-linecap="round" />
<line x1="689.47" y1="528.47" x2="722.74" y2="528.47" stroke="#d9fcfc" stroke-width="17.8" stroke-linecap="round" />
<line x1="722.74" y1="528.47" x2="739.38" y2="557.29" stroke="#d9fcfc" stroke-width="17.8" stroke-linecap="round" />
<line x1="739.38" y1="557.29" x2="722.74" y2="586.1" stroke="#d9fcfc" stroke-width="17.8" stroke-linecap="round" />
<line x1="722.74" y1="586.1" x2="689.47" y2="586.1" stroke="#d9fcfc" stroke-width="17.8" stroke-linecap="round" />
<line x1="739.38" y1="557.29" x2="772.64" y2="557.29" stroke="#d9fcfc" stroke-width="17.8" stroke-linecap="round" />
<line x1="789.28" y1="586.1" x2="772.64" y2="614.91" stroke="#d9fcfc" stroke-width="17.8" stroke-linecap="round" />
<line x1="772.64" y1="614.91" x2="739.38" y2="614.91" stroke="#d9fcfc" stroke-width="17.8" stroke-linecap="round" />
<line x1="739.38" y1="614.91" x2="722.74" y2="586.1" stroke="#d9fcfc" stroke-width="17.8" stroke-linecap="round" />
</g>
<line x1="789.28" y1="586.1" x2="772.65" y2="557.29" stroke="#f4f400" stroke-width="18.5" stroke-linecap="round" />
<line x1="772.65" y1="557.29" x2="789.28" y2="528.47" stroke="#f4f400" stroke-width="18.5" stroke-linecap="round" />
<line x1="789.28" y1="528.47" x2="822.55" y2="528.47" stroke="#f4f400" stroke-width="18.5" stroke-linecap="round" />
<line x1="822.55" y1="528.47" x2="839.19" y2="557.29" stroke="#f4f400" stroke-width="18.5" stroke-linecap="round" />
<line x1="839.19" y1="557.29" x2="822.55" y2="586.1" stroke="#f4f400" stroke-width="18.5" stroke-linecap="round" />
<line x1="822.55" y1="586.1" x2="789.28" y2="586.1" stroke="#f4f400" stroke-width="18.5" stroke-linecap="round" />
<polygon points="622.93,586.1 639.57,557.29 672.84,557.29 689.47,586.1 672.84,614.91 639.57,614.91" fill="none" stroke="#000" stroke-width="2.5" stroke-linejoin="miter"/>
<polygon points="672.84,557.29 689.47,528.47 722.74,528.47 739.38,557.29 722.74,586.1 689.47,586.1" fill="none" stroke="#000" stroke-width="2.5" stroke-linejoin="miter"/>
<polygon points="722.74,586.1 739.38,557.29 772.64,557.29 789.28,586.1 772.64,614.91 739.38,614.91" fill="none" stroke="#000" stroke-width="2.5" stroke-linejoin="miter"/>
<polygon points="772.65,557.29 789.28,528.47 822.55,528.47 839.19,557.29 822.55,586.1 789.28,586.1" fill="none" stroke="#000" stroke-width="2.5" stroke-linejoin="miter"/>
<line x1="644.06" y1="563.99" x2="668.34" y2="563.99" stroke="#000" stroke-width="2.5" stroke-linecap="round" />
<line x1="643.12" y1="607.67" x2="630.98" y2="586.64" stroke="#000" stroke-width="2.5" stroke-linecap="round" />
<line x1="681.42" y1="586.64" x2="669.28" y2="607.67" stroke="#000" stroke-width="2.5" stroke-linecap="round" />
<line x1="693.96" y1="535.17" x2="718.25" y2="535.17" stroke="#000" stroke-width="2.5" stroke-linecap="round" />
<line x1="730.79" y1="585.56" x2="742.93" y2="564.53" stroke="#000" stroke-width="2.5" stroke-linecap="round" />
<line x1="768.15" y1="608.21" x2="743.87" y2="608.21" stroke="#000" stroke-width="2.5" stroke-linecap="round" />
<line x1="769.09" y1="564.53" x2="781.23" y2="585.56" stroke="#000" stroke-width="2.5" stroke-linecap="round" />
<line x1="793.77" y1="535.17" x2="818.06" y2="535.17" stroke="#000" stroke-width="2.5" stroke-linecap="round" />
<line x1="831.14" y1="557.83" x2="818.99" y2="578.86" stroke="#000" stroke-width="2.5" stroke-linecap="round" />
<g style="mix-blend-mode:multiply">
<line x1="935.03" y1="594.7" x2="951.66" y2="565.89" stroke="#d9fcfc" stroke-width="17.8" stroke-linecap="round" />
<line x1="951.66" y1="565.89" x2="984.93" y2="565.89" stroke="#d9fcfc" stroke-width="17.8" stroke-linecap="round" />
<line x1="984.93" y1="565.89" x2="1001.57" y2="594.7" stroke="#d9fcfc" stroke-width="17.8" stroke-linecap="round" />
<line x1="1001.57" y1="594.7" x2="984.93" y2="623.51" stroke="#d9fcfc" stroke-width="17.8" stroke-linecap="round" />
<line x1="984.93" y1="623.51" x2="951.66" y2="623.51" stroke="#d9fcfc" stroke-width="17.8" stroke-linecap="round" />
<line x1="951.66" y1="623.51" x2="935.03" y2="594.7" stroke="#d9fcfc" stroke-width="17.8" stroke-linecap="round" />
<line x1="984.93" y1="565.89" x2="1001.57" y2="537.07" stroke="#d9fcfc" stroke-width="17.8" stroke-linecap="round" />
<line x1="1001.57" y1="537.07" x2="1034.84" y2="537.07" stroke="#d9fcfc" stroke-width="17.8" stroke-linecap="round" />
<line x1="1034.84" y1="537.07" x2="1051.47" y2="565.89" stroke="#d9fcfc" stroke-width="17.8" stroke-linecap="round" />
<line x1="1051.47" y1="565.89" x2="1034.84" y2="594.7" stroke="#d9fcfc" stroke-width="17.8" stroke-linecap="round" />
<line x1="1034.84" y1="594.7" x2="1001.57" y2="594.7" stroke="#d9fcfc" stroke-width="17.8" stroke-linecap="round" />
<line x1="1051.47" y1="565.89" x2="1084.74" y2="565.89" stroke="#d9fcfc" stroke-width="17.8" stroke-linecap="round" />
<line x1="1101.38" y1="594.7" x2="1084.74" y2="623.51" stroke="#d9fcfc" stroke-width="17.8" stroke-linecap="round" />
<line x1="1084.74" y1="623.51" x2="1051.47" y2="623.51" stroke="#d9fcfc" stroke-width="17.8" stroke-linecap="round" />
<line x1="1051.47" y1="623.51" x2="1034.84" y2="594.7" stroke="#d9fcfc" stroke-width="17.8" stroke-linecap="round" />
</g>
<line x1="1101.38" y1="594.7" x2="1084.74" y2="565.89" stroke="#f4f400" stroke-width="18.5" stroke-linecap="round" />
<line x1="1084.74" y1="565.89" x2="1101.38" y2="537.07" stroke="#f4f400" stroke-width="18.5" stroke-linecap="round" />
<line x1="1101.38" y1="537.07" x2="1134.65" y2="537.07" stroke="#f4f400" stroke-width="18.5" stroke-linecap="round" />
<line x1="1151.29" y1="565.89" x2="1134.65" y2="537.07" stroke="#f4f400" stroke-width="18.5" stroke-linecap="round" />
<line x1="1151.28" y1="565.89" x2="1134.65" y2="594.7" stroke="#f4f400" stroke-width="18.5" stroke-linecap="round" />
<line x1="1134.65" y1="594.7" x2="1101.38" y2="594.7" stroke="#f4f400" stroke-width="18.5" stroke-linecap="round" />
<line x1="1134.65" y1="537.07" x2="1151.29" y2="508.26" stroke="#f4f400" stroke-width="18.5" stroke-linecap="round" />
<line x1="1151.29" y1="508.26" x2="1184.56" y2="508.26" stroke="#f4f400" stroke-width="18.5" stroke-linecap="round" />
<line x1="1184.56" y1="508.26" x2="1201.19" y2="537.07" stroke="#f4f400" stroke-width="18.5" stroke-linecap="round" />
<line x1="1201.19" y1="537.07" x2="1184.56" y2="565.89" stroke="#f4f400" stroke-width="18.5" stroke-linecap="round" />
<line x1="1184.56" y1="565.89" x2="1151.29" y2="565.89" stroke="#f4f400" stroke-width="18.5" stroke-linecap="round" />
<polygon points="935.03,594.7 951.66,565.89 984.93,565.89 1001.57,594.7 984.93,623.51 951.66,623.51" fill="none" stroke="#000" stroke-width="2.5" stroke-linejoin="miter"/>
<polygon points="984.93,565.89 1001.57,537.07 1034.84,537.07 1051.47,565.89 1034.84,594.7 1001.57,594.7" fill="none" stroke="#000" stroke-width="2.5" stroke-linejoin="miter"/>
<polygon points="1034.84,594.7 1051.47,565.89 1084.74,565.89 1101.38,594.7 1084.74,623.51 1051.47,623.51" fill="none" stroke="#000" stroke-width="2.5" stroke-linejoin="miter"/>
<polygon points="1084.74,565.89 1101.38,537.07 1134.65,537.07 1151.28,565.89 1134.65,594.7 1101.38,594.7" fill="none" stroke="#000" stroke-width="2.5" stroke-linejoin="miter"/>
<polygon points="1134.65,537.07 1151.29,508.26 1184.56,508.26 1201.19,537.07 1184.56,565.89 1151.29,565.89" fill="none" stroke="#000" stroke-width="2.5" stroke-linejoin="miter"/>
<line x1="943.08" y1="594.16" x2="955.22" y2="573.13" stroke="#000" stroke-width="2.5" stroke-linecap="round" />
<line x1="980.44" y1="616.81" x2="956.16" y2="616.81" stroke="#000" stroke-width="2.5" stroke-linecap="round" />
<line x1="1005.13" y1="587.46" x2="992.98" y2="566.43" stroke="#000" stroke-width="2.5" stroke-linecap="round" />
<line x1="1006.06" y1="543.77" x2="1030.35" y2="543.77" stroke="#000" stroke-width="2.5" stroke-linecap="round" />
<line x1="1043.43" y1="566.43" x2="1031.28" y2="587.46" stroke="#000" stroke-width="2.5" stroke-linecap="round" />
<line x1="1080.25" y1="616.81" x2="1055.97" y2="616.81" stroke="#000" stroke-width="2.5" stroke-linecap="round" />
<line x1="1092.79" y1="565.35" x2="1104.94" y2="544.31" stroke="#000" stroke-width="2.5" stroke-linecap="round" />
<line x1="1130.16" y1="588" x2="1105.87" y2="588" stroke="#000" stroke-width="2.5" stroke-linecap="round" />
<line x1="1142.7" y1="536.53" x2="1154.84" y2="515.5" stroke="#000" stroke-width="2.5" stroke-linecap="round" />
<line x1="1181" y1="515.5" x2="1193.14" y2="536.53" stroke="#000" stroke-width="2.5" stroke-linecap="round" />
<line x1="1180.06" y1="559.19" x2="1155.78" y2="559.19" stroke="#000" stroke-width="2.5" stroke-linecap="round" />
<g style="mix-blend-mode:multiply">
<line x1="49.73" y1="838.9" x2="66.36" y2="810.09" stroke="#d9fcfc" stroke-width="17.8" stroke-linecap="round" />
<line x1="66.36" y1="810.09" x2="99.64" y2="810.09" stroke="#d9fcfc" stroke-width="17.8" stroke-linecap="round" />
<line x1="99.64" y1="810.09" x2="116.27" y2="838.9" stroke="#d9fcfc" stroke-width="17.8" stroke-linecap="round" />
<line x1="116.27" y1="838.9" x2="99.63" y2="867.71" stroke="#d9fcfc" stroke-width="17.8" stroke-linecap="round" />
<line x1="99.63" y1="867.71" x2="66.37" y2="867.71" stroke="#d9fcfc" stroke-width="17.8" stroke-linecap="round" />
<line x1="66.37" y1="867.71" x2="49.73" y2="838.9" stroke="#d9fcfc" stroke-width="17.8" stroke-linecap="round" />
<line x1="99.63" y1="810.09" x2="116.27" y2="781.27" stroke="#d9fcfc" stroke-width="17.8" stroke-linecap="round" />
<line x1="116.27" y1="781.27" x2="149.54" y2="781.27" stroke="#d9fcfc" stroke-width="17.8" stroke-linecap="round" />
<line x1="149.54" y1="781.27" x2="166.18" y2="810.09" stroke="#d9fcfc" stroke-width="17.8" stroke-linecap="round" />
<line x1="166.18" y1="810.09" x2="149.54" y2="838.9" stroke="#d9fcfc" stroke-width="17.8" stroke-linecap="round" />
<line x1="149.54" y1="838.9" x2="116.27" y2="838.9" stroke="#d9fcfc" stroke-width="17.8" stroke-linecap="round" />
<line x1="166.17" y1="810.09" x2="199.44" y2="810.09" stroke="#d9fcfc" stroke-width="17.8" stroke-linecap="round" />
<line x1="216.08" y1="838.9" x2="199.44" y2="867.71" stroke="#d9fcfc" stroke-width="17.8" stroke-linecap="round" />
<line x1="199.44" y1="867.71" x2="166.18" y2="867.71" stroke="#d9fcfc" stroke-width="17.8" stroke-linecap="round" />
<line x1="166.18" y1="867.71" x2="149.54" y2="838.9" stroke="#d9fcfc" stroke-width="17.8" stroke-linecap="round" />
</g>
<line x1="216.08" y1="838.9" x2="199.44" y2="810.09" stroke="#f4f400" stroke-width="18.5" stroke-linecap="round" />
<line x1="199.44" y1="810.09" x2="216.08" y2="781.27" stroke="#f4f400" stroke-width="18.5" stroke-linecap="round" />
<line x1="249.35" y1="781.27" x2="216.08" y2="781.27" stroke="#f4f400" stroke-width="18.5" stroke-linecap="round" />
<line x1="249.35" y1="781.27" x2="265.99" y2="810.09" stroke="#f4f400" stroke-width="18.5" stroke-linecap="round" />
<line x1="265.99" y1="810.09" x2="249.35" y2="838.9" stroke="#f4f400" stroke-width="18.5" stroke-linecap="round" />
<line x1="249.35" y1="838.9" x2="216.08" y2="838.9" stroke="#f4f400" stroke-width="18.5" stroke-linecap="round" />
<line x1="199.44" y1="752.46" x2="216.08" y2="723.65" stroke="#f4f400" stroke-width="18.5" stroke-linecap="round" />
<line x1="216.08" y1="723.65" x2="249.35" y2="723.65" stroke="#f4f400" stroke-width="18.5" stroke-linecap="round" />
<line x1="249.35" y1="723.65" x2="265.99" y2="752.46" stroke="#f4f400" stroke-width="18.5" stroke-linecap="round" />
<line x1="265.99" y1="752.46" x2="249.35" y2="781.27" stroke="#f4f400" stroke-width="18.5" stroke-linecap="round" />
<line x1="216.08" y1="781.27" x2="199.44" y2="752.46" stroke="#f4f400" stroke-width="18.5" stroke-linecap="round" />
<polygon points="49.73,838.9 66.36,810.09 99.64,810.09 116.27,838.9 99.63,867.71 66.37,867.71" fill="none" stroke="#000" stroke-width="2.5" stroke-linejoin="miter"/>
<polygon points="99.63,810.09 116.27,781.27 149.54,781.27 166.18,810.09 149.54,838.9 116.27,838.9" fill="none" stroke="#000" stroke-width="2.5" stroke-linejoin="miter"/>
<polygon points="149.54,838.9 166.17,810.09 199.44,810.09 216.08,838.9 199.44,867.71 166.18,867.71" fill="none" stroke="#000" stroke-width="2.5" stroke-linejoin="miter"/>
<polygon points="199.44,810.09 216.08,781.27 249.35,781.27 265.99,810.09 249.35,838.9 216.08,838.9" fill="none" stroke="#000" stroke-width="2.5" stroke-linejoin="miter"/>
<polygon points="199.44,752.46 216.08,723.65 249.35,723.65 265.99,752.46 249.35,781.27 216.08,781.27" fill="none" stroke="#000" stroke-width="2.5" stroke-linejoin="miter"/>
<line x1="57.78" y1="838.36" x2="69.92" y2="817.33" stroke="#000" stroke-width="2.5" stroke-linecap="round" />
<line x1="95.14" y1="861.01" x2="70.86" y2="861.01" stroke="#000" stroke-width="2.5" stroke-linecap="round" />
<line x1="119.83" y1="831.66" x2="107.68" y2="810.63" stroke="#000" stroke-width="2.5" stroke-linecap="round" />
<line x1="120.76" y1="787.97" x2="145.05" y2="787.97" stroke="#000" stroke-width="2.5" stroke-linecap="round" />
<line x1="158.13" y1="810.63" x2="145.98" y2="831.66" stroke="#000" stroke-width="2.5" stroke-linecap="round" />
<line x1="194.95" y1="861.01" x2="170.67" y2="861.01" stroke="#000" stroke-width="2.5" stroke-linecap="round" />
<line x1="195.89" y1="817.33" x2="208.03" y2="838.36" stroke="#000" stroke-width="2.5" stroke-linecap="round" />
<line x1="257.94" y1="810.63" x2="245.79" y2="831.66" stroke="#000" stroke-width="2.5" stroke-linecap="round" />
<line x1="220.57" y1="730.35" x2="244.86" y2="730.35" stroke="#000" stroke-width="2.5" stroke-linecap="round" />
<line x1="219.64" y1="774.03" x2="207.49" y2="753" stroke="#000" stroke-width="2.5" stroke-linecap="round" />
<line x1="257.94" y1="753" x2="245.79" y2="774.03" stroke="#000" stroke-width="2.5" stroke-linecap="round" />
<g style="mix-blend-mode:multiply">
<line x1="344.03" y1="838.9" x2="360.67" y2="810.09" stroke="#d9fcfc" stroke-width="17.8" stroke-linecap="round" />
<line x1="360.67" y1="810.09" x2="393.94" y2="810.09" stroke="#d9fcfc" stroke-width="17.8" stroke-linecap="round" />
<line x1="393.94" y1="810.09" x2="410.57" y2="838.9" stroke="#d9fcfc" stroke-width="17.8" stroke-linecap="round" />
<line x1="410.57" y1="838.9" x2="393.94" y2="867.71" stroke="#d9fcfc" stroke-width="17.8" stroke-linecap="round" />
<line x1="393.94" y1="867.71" x2="360.67" y2="867.71" stroke="#d9fcfc" stroke-width="17.8" stroke-linecap="round" />
<line x1="360.67" y1="867.71" x2="344.03" y2="838.9" stroke="#d9fcfc" stroke-width="17.8" stroke-linecap="round" />
<line x1="393.94" y1="810.09" x2="410.57" y2="781.27" stroke="#d9fcfc" stroke-width="17.8" stroke-linecap="round" />
<line x1="443.84" y1="781.27" x2="460.48" y2="810.09" stroke="#d9fcfc" stroke-width="17.8" stroke-linecap="round" />
<line x1="460.48" y1="810.09" x2="443.84" y2="838.9" stroke="#d9fcfc" stroke-width="17.8" stroke-linecap="round" />
<line x1="443.84" y1="838.9" x2="410.57" y2="838.9" stroke="#d9fcfc" stroke-width="17.8" stroke-linecap="round" />
<line x1="460.48" y1="810.09" x2="493.75" y2="810.09" stroke="#d9fcfc" stroke-width="17.8" stroke-linecap="round" />
<line x1="510.38" y1="838.9" x2="493.75" y2="867.71" stroke="#d9fcfc" stroke-width="17.8" stroke-linecap="round" />
<line x1="493.75" y1="867.71" x2="460.48" y2="867.71" stroke="#d9fcfc" stroke-width="17.8" stroke-linecap="round" />
<line x1="460.48" y1="867.71" x2="443.84" y2="838.9" stroke="#d9fcfc" stroke-width="17.8" stroke-linecap="round" />
</g>
<line x1="443.84" y1="781.27" x2="410.57" y2="781.27" stroke="#f4f400" stroke-width="18.5" stroke-linecap="round" />
<line x1="510.38" y1="838.9" x2="493.75" y2="810.09" stroke="#f4f400" stroke-width="18.5" stroke-linecap="round" />
<line x1="393.94" y1="752.46" x2="410.57" y2="723.65" stroke="#f4f400" stroke-width="18.5" stroke-linecap="round" />
<line x1="410.57" y1="723.65" x2="443.84" y2="723.65" stroke="#f4f400" stroke-width="18.5" stroke-linecap="round" />
<line x1="443.84" y1="723.65" x2="460.48" y2="752.46" stroke="#f4f400" stroke-width="18.5" stroke-linecap="round" />
<line x1="460.48" y1="752.46" x2="443.84" y2="781.27" stroke="#f4f400" stroke-width="18.5" stroke-linecap="round" />
<line x1="410.57" y1="781.27" x2="393.94" y2="752.46" stroke="#f4f400" stroke-width="18.5" stroke-linecap="round" />
<line x1="493.75" y1="810.09" x2="510.38" y2="781.27" stroke="#f4f400" stroke-width="18.5" stroke-linecap="round" />
<line x1="510.38" y1="781.27" x2="543.65" y2="781.27" stroke="#f4f400" stroke-width="18.5" stroke-linecap="round" />
<line x1="543.65" y1="781.27" x2="560.28" y2="810.09" stroke="#f4f400" stroke-width="18.5" stroke-linecap="round" />
<line x1="560.28" y1="810.09" x2="543.65" y2="838.9" stroke="#f4f400" stroke-width="18.5" stroke-linecap="round" />
<line x1="543.65" y1="838.9" x2="510.38" y2="838.9" stroke="#f4f400" stroke-width="18.5" stroke-linecap="round" />
<polygon points="344.03,838.9 360.67,810.09 393.94,810.09 410.57,838.9 393.94,867.71 360.67,867.71" fill="none" stroke="#000" stroke-width="2.5" stroke-linejoin="miter"/>
<polygon points="393.94,810.09 410.57,781.27 443.84,781.27 460.48,810.09 443.84,838.9 410.57,838.9" fill="none" stroke="#000" stroke-width="2.5" stroke-linejoin="miter"/>
<polygon points="443.84,838.9 460.48,810.09 493.75,810.09 510.38,838.9 493.75,867.71 460.48,867.71" fill="none" stroke="#000" stroke-width="2.5" stroke-linejoin="miter"/>
<polygon points="393.94,752.46 410.57,723.65 443.84,723.65 460.48,752.46 443.84,781.27 410.57,781.27" fill="none" stroke="#000" stroke-width="2.5" stroke-linejoin="miter"/>
<polygon points="493.75,810.09 510.38,781.27 543.65,781.27 560.28,810.09 543.65,838.9 510.38,838.9" fill="none" stroke="#000" stroke-width="2.5" stroke-linejoin="miter"/>
<line x1="352.08" y1="838.36" x2="364.22" y2="817.33" stroke="#000" stroke-width="2.5" stroke-linecap="round" />
<line x1="389.44" y1="861.01" x2="365.16" y2="861.01" stroke="#000" stroke-width="2.5" stroke-linecap="round" />
<line x1="414.13" y1="831.66" x2="401.98" y2="810.63" stroke="#000" stroke-width="2.5" stroke-linecap="round" />
<line x1="415.06" y1="787.97" x2="439.35" y2="787.97" stroke="#000" stroke-width="2.5" stroke-linecap="round" />
<line x1="452.43" y1="810.63" x2="440.28" y2="831.66" stroke="#000" stroke-width="2.5" stroke-linecap="round" />
<line x1="489.25" y1="861.01" x2="464.97" y2="861.01" stroke="#000" stroke-width="2.5" stroke-linecap="round" />
<line x1="490.19" y1="817.33" x2="502.33" y2="838.36" stroke="#000" stroke-width="2.5" stroke-linecap="round" />
<line x1="401.98" y1="751.92" x2="414.13" y2="730.89" stroke="#000" stroke-width="2.5" stroke-linecap="round" />
<line x1="440.28" y1="730.89" x2="452.43" y2="751.92" stroke="#000" stroke-width="2.5" stroke-linecap="round" />
<line x1="514.87" y1="787.97" x2="539.16" y2="787.97" stroke="#000" stroke-width="2.5" stroke-linecap="round" />
<line x1="552.24" y1="810.63" x2="540.09" y2="831.66" stroke="#000" stroke-width="2.5" stroke-linecap="round" />
<g style="mix-blend-mode:multiply">
<line x1="636.03" y1="810.5" x2="652.66" y2="781.69" stroke="#d9fcfc" stroke-width="17.8" stroke-linecap="round" />
<line x1="652.66" y1="781.69" x2="685.93" y2="781.69" stroke="#d9fcfc" stroke-width="17.8" stroke-linecap="round" />
<line x1="685.93" y1="781.69" x2="702.57" y2="810.5" stroke="#d9fcfc" stroke-width="17.8" stroke-linecap="round" />
<line x1="702.57" y1="810.5" x2="685.93" y2="839.31" stroke="#d9fcfc" stroke-width="17.8" stroke-linecap="round" />
<line x1="685.93" y1="839.31" x2="652.66" y2="839.31" stroke="#d9fcfc" stroke-width="17.8" stroke-linecap="round" />
<line x1="652.66" y1="839.31" x2="636.03" y2="810.5" stroke="#d9fcfc" stroke-width="17.8" stroke-linecap="round" />
<line x1="685.93" y1="781.69" x2="702.57" y2="752.87" stroke="#d9fcfc" stroke-width="17.8" stroke-linecap="round" />
<line x1="735.84" y1="752.87" x2="752.47" y2="781.69" stroke="#d9fcfc" stroke-width="17.8" stroke-linecap="round" />
<line x1="752.47" y1="781.69" x2="735.84" y2="810.5" stroke="#d9fcfc" stroke-width="17.8" stroke-linecap="round" />
<line x1="735.84" y1="810.5" x2="702.57" y2="810.5" stroke="#d9fcfc" stroke-width="17.8" stroke-linecap="round" />
<line x1="752.47" y1="781.69" x2="785.74" y2="781.69" stroke="#d9fcfc" stroke-width="17.8" stroke-linecap="round" />
<line x1="802.38" y1="810.5" x2="785.74" y2="839.31" stroke="#d9fcfc" stroke-width="17.8" stroke-linecap="round" />
<line x1="752.47" y1="839.31" x2="735.84" y2="810.5" stroke="#d9fcfc" stroke-width="17.8" stroke-linecap="round" />
</g>
<line x1="735.84" y1="752.87" x2="702.57" y2="752.87" stroke="#f4f400" stroke-width="18.5" stroke-linecap="round" />
<line x1="802.38" y1="810.5" x2="785.75" y2="781.69" stroke="#f4f400" stroke-width="18.5" stroke-linecap="round" />
<line x1="752.47" y1="839.31" x2="785.74" y2="839.31" stroke="#f4f400" stroke-width="18.5" stroke-linecap="round" />
<line x1="685.93" y1="724.06" x2="702.57" y2="695.25" stroke="#f4f400" stroke-width="18.5" stroke-linecap="round" />
<line x1="702.57" y1="695.25" x2="735.84" y2="695.25" stroke="#f4f400" stroke-width="18.5" stroke-linecap="round" />
<line x1="735.84" y1="695.25" x2="752.47" y2="724.06" stroke="#f4f400" stroke-width="18.5" stroke-linecap="round" />
<line x1="752.47" y1="724.06" x2="735.84" y2="752.87" stroke="#f4f400" stroke-width="18.5" stroke-linecap="round" />
<line x1="702.57" y1="752.87" x2="685.93" y2="724.06" stroke="#f4f400" stroke-width="18.5" stroke-linecap="round" />
<line x1="785.75" y1="781.69" x2="802.38" y2="752.87" stroke="#f4f400" stroke-width="18.5" stroke-linecap="round" />
<line x1="802.38" y1="752.87" x2="835.65" y2="752.87" stroke="#f4f400" stroke-width="18.5" stroke-linecap="round" />
<line x1="835.65" y1="752.87" x2="852.28" y2="781.69" stroke="#f4f400" stroke-width="18.5" stroke-linecap="round" />
<line x1="852.28" y1="781.69" x2="835.65" y2="810.5" stroke="#f4f400" stroke-width="18.5" stroke-linecap="round" />
<line x1="835.65" y1="810.5" x2="802.38" y2="810.5" stroke="#f4f400" stroke-width="18.5" stroke-linecap="round" />
<line x1="735.84" y1="868.13" x2="752.47" y2="839.31" stroke="#f4f400" stroke-width="18.5" stroke-linecap="round" />
<line x1="785.74" y1="839.31" x2="802.38" y2="868.13" stroke="#f4f400" stroke-width="18.5" stroke-linecap="round" />
<line x1="802.38" y1="868.13" x2="785.74" y2="896.94" stroke="#f4f400" stroke-width="18.5" stroke-linecap="round" />
<line x1="785.74" y1="896.94" x2="752.47" y2="896.94" stroke="#f4f400" stroke-width="18.5" stroke-linecap="round" />
<line x1="752.47" y1="896.94" x2="735.84" y2="868.13" stroke="#f4f400" stroke-width="18.5" stroke-linecap="round" />
<polygon points="636.03,810.5 652.66,781.69 685.93,781.69 702.57,810.5 685.93,839.31 652.66,839.31" fill="none" stroke="#000" stroke-width="2.5" stroke-linejoin="miter"/>
<polygon points="685.93,781.69 702.57,752.87 735.84,752.87 752.47,781.69 735.84,810.5 702.57,810.5" fill="none" stroke="#000" stroke-width="2.5" stroke-linejoin="miter"/>
<polygon points="735.84,810.5 752.47,781.69 785.74,781.69 802.38,810.5 785.74,839.31 752.47,839.31" fill="none" stroke="#000" stroke-width="2.5" stroke-linejoin="miter"/>
<polygon points="685.93,724.06 702.57,695.25 735.84,695.25 752.47,724.06 735.84,752.87 702.57,752.87" fill="none" stroke="#000" stroke-width="2.5" stroke-linejoin="miter"/>
<polygon points="785.75,781.69 802.38,752.87 835.65,752.87 852.28,781.69 835.65,810.5 802.38,810.5" fill="none" stroke="#000" stroke-width="2.5" stroke-linejoin="miter"/>
<polygon points="735.84,868.13 752.47,839.31 785.74,839.31 802.38,868.13 785.74,896.94 752.47,896.94" fill="none" stroke="#000" stroke-width="2.5" stroke-linejoin="miter"/>
<line x1="644.08" y1="809.96" x2="656.22" y2="788.93" stroke="#000" stroke-width="2.5" stroke-linecap="round" />
<line x1="681.44" y1="832.61" x2="657.16" y2="832.61" stroke="#000" stroke-width="2.5" stroke-linecap="round" />
<line x1="706.13" y1="803.26" x2="693.98" y2="782.23" stroke="#000" stroke-width="2.5" stroke-linecap="round" />
<line x1="707.06" y1="759.57" x2="731.35" y2="759.57" stroke="#000" stroke-width="2.5" stroke-linecap="round" />
<line x1="744.43" y1="782.23" x2="732.28" y2="803.26" stroke="#000" stroke-width="2.5" stroke-linecap="round" />
<line x1="782.19" y1="788.93" x2="794.33" y2="809.96" stroke="#000" stroke-width="2.5" stroke-linecap="round" />
<line x1="781.25" y1="832.61" x2="756.97" y2="832.61" stroke="#000" stroke-width="2.5" stroke-linecap="round" />
<line x1="693.98" y1="723.52" x2="706.13" y2="702.49" stroke="#000" stroke-width="2.5" stroke-linecap="round" />
<line x1="732.28" y1="702.49" x2="744.43" y2="723.52" stroke="#000" stroke-width="2.5" stroke-linecap="round" />
<line x1="806.87" y1="759.57" x2="831.16" y2="759.57" stroke="#000" stroke-width="2.5" stroke-linecap="round" />
<line x1="844.24" y1="782.23" x2="832.09" y2="803.26" stroke="#000" stroke-width="2.5" stroke-linecap="round" />
<line x1="756.03" y1="889.7" x2="743.89" y2="868.67" stroke="#000" stroke-width="2.5" stroke-linecap="round" />
<line x1="794.33" y1="868.67" x2="782.19" y2="889.7" stroke="#000" stroke-width="2.5" stroke-linecap="round" />
<g style="mix-blend-mode:multiply">
<line x1="921.23" y1="839.1" x2="937.87" y2="810.29" stroke="#d9fcfc" stroke-width="17.8" stroke-linecap="round" />
<line x1="937.87" y1="810.29" x2="971.13" y2="810.29" stroke="#d9fcfc" stroke-width="17.8" stroke-linecap="round" />
<line x1="971.13" y1="810.29" x2="987.77" y2="839.1" stroke="#d9fcfc" stroke-width="17.8" stroke-linecap="round" />
<line x1="987.77" y1="839.1" x2="971.13" y2="867.91" stroke="#d9fcfc" stroke-width="17.8" stroke-linecap="round" />
<line x1="971.13" y1="867.91" x2="937.87" y2="867.91" stroke="#d9fcfc" stroke-width="17.8" stroke-linecap="round" />
<line x1="937.87" y1="867.91" x2="921.23" y2="839.1" stroke="#d9fcfc" stroke-width="17.8" stroke-linecap="round" />
<line x1="971.13" y1="810.29" x2="987.77" y2="781.47" stroke="#d9fcfc" stroke-width="17.8" stroke-linecap="round" />
<line x1="1021.04" y1="781.47" x2="1037.67" y2="810.29" stroke="#d9fcfc" stroke-width="17.8" stroke-linecap="round" />
<line x1="1037.67" y1="810.29" x2="1021.04" y2="839.1" stroke="#d9fcfc" stroke-width="17.8" stroke-linecap="round" />
<line x1="1021.04" y1="839.1" x2="987.77" y2="839.1" stroke="#d9fcfc" stroke-width="17.8" stroke-linecap="round" />
<line x1="1037.67" y1="810.29" x2="1070.94" y2="810.29" stroke="#d9fcfc" stroke-width="17.8" stroke-linecap="round" />
<line x1="1087.58" y1="839.1" x2="1070.94" y2="867.91" stroke="#d9fcfc" stroke-width="17.8" stroke-linecap="round" />
<line x1="1070.94" y1="867.91" x2="1037.67" y2="867.91" stroke="#d9fcfc" stroke-width="17.8" stroke-linecap="round" />
<line x1="1037.67" y1="867.91" x2="1021.04" y2="839.1" stroke="#d9fcfc" stroke-width="17.8" stroke-linecap="round" />
</g>
<line x1="1021.04" y1="781.47" x2="987.77" y2="781.47" stroke="#f4f400" stroke-width="18.5" stroke-linecap="round" />
<line x1="1087.58" y1="839.1" x2="1070.94" y2="810.29" stroke="#f4f400" stroke-width="18.5" stroke-linecap="round" />
<line x1="971.13" y1="752.66" x2="987.77" y2="723.85" stroke="#f4f400" stroke-width="18.5" stroke-linecap="round" />
<line x1="987.77" y1="723.85" x2="1021.04" y2="723.85" stroke="#f4f400" stroke-width="18.5" stroke-linecap="round" />
<line x1="1021.04" y1="723.85" x2="1037.67" y2="752.66" stroke="#f4f400" stroke-width="18.5" stroke-linecap="round" />
<line x1="1037.67" y1="752.66" x2="1021.04" y2="781.47" stroke="#f4f400" stroke-width="18.5" stroke-linecap="round" />
<line x1="987.77" y1="781.47" x2="971.13" y2="752.66" stroke="#f4f400" stroke-width="18.5" stroke-linecap="round" />
<line x1="1070.94" y1="810.29" x2="1087.58" y2="781.47" stroke="#f4f400" stroke-width="18.5" stroke-linecap="round" />
<line x1="1087.58" y1="781.47" x2="1120.85" y2="781.47" stroke="#f4f400" stroke-width="18.5" stroke-linecap="round" />
<line x1="1120.85" y1="781.47" x2="1137.48" y2="810.29" stroke="#f4f400" stroke-width="18.5" stroke-linecap="round" />
<line x1="1120.85" y1="839.1" x2="1137.48" y2="810.29" stroke="#f4f400" stroke-width="18.5" stroke-linecap="round" />
<line x1="1120.85" y1="839.1" x2="1087.58" y2="839.1" stroke="#f4f400" stroke-width="18.5" stroke-linecap="round" />
<line x1="1137.48" y1="810.29" x2="1170.75" y2="810.29" stroke="#f4f400" stroke-width="18.5" stroke-linecap="round" />
<line x1="1170.75" y1="810.29" x2="1187.39" y2="839.1" stroke="#f4f400" stroke-width="18.5" stroke-linecap="round" />
<line x1="1187.39" y1="839.1" x2="1170.75" y2="867.91" stroke="#f4f400" stroke-width="18.5" stroke-linecap="round" />
<line x1="1170.75" y1="867.91" x2="1137.48" y2="867.91" stroke="#f4f400" stroke-width="18.5" stroke-linecap="round" />
<line x1="1137.48" y1="867.91" x2="1120.85" y2="839.1" stroke="#f4f400" stroke-width="18.5" stroke-linecap="round" />
<polygon points="921.23,839.1 937.87,810.29 971.13,810.29 987.77,839.1 971.13,867.91 937.87,867.91" fill="none" stroke="#000" stroke-width="2.5" stroke-linejoin="miter"/>
<polygon points="971.13,810.29 987.77,781.47 1021.04,781.47 1037.67,810.29 1021.04,839.1 987.77,839.1" fill="none" stroke="#000" stroke-width="2.5" stroke-linejoin="miter"/>
<polygon points="1021.04,839.1 1037.67,810.29 1070.94,810.29 1087.58,839.1 1070.94,867.91 1037.67,867.91" fill="none" stroke="#000" stroke-width="2.5" stroke-linejoin="miter"/>
<polygon points="971.13,752.66 987.77,723.85 1021.04,723.85 1037.67,752.66 1021.04,781.47 987.77,781.47" fill="none" stroke="#000" stroke-width="2.5" stroke-linejoin="miter"/>
<polygon points="1070.94,810.29 1087.58,781.47 1120.85,781.47 1137.48,810.29 1120.85,839.1 1087.58,839.1" fill="none" stroke="#000" stroke-width="2.5" stroke-linejoin="miter"/>
<polygon points="1120.85,839.1 1137.48,810.29 1170.75,810.29 1187.39,839.1 1170.75,867.91 1137.48,867.91" fill="none" stroke="#000" stroke-width="2.5" stroke-linejoin="miter"/>
<line x1="929.28" y1="838.56" x2="941.42" y2="817.53" stroke="#000" stroke-width="2.5" stroke-linecap="round" />
<line x1="966.64" y1="861.21" x2="942.36" y2="861.21" stroke="#000" stroke-width="2.5" stroke-linecap="round" />
<line x1="967.58" y1="817.53" x2="979.72" y2="838.56" stroke="#000" stroke-width="2.5" stroke-linecap="round" />
<line x1="992.26" y1="730.55" x2="1016.55" y2="730.55" stroke="#000" stroke-width="2.5" stroke-linecap="round" />
<line x1="991.33" y1="774.23" x2="979.18" y2="753.2" stroke="#000" stroke-width="2.5" stroke-linecap="round" />
<line x1="1029.63" y1="753.2" x2="1017.48" y2="774.23" stroke="#000" stroke-width="2.5" stroke-linecap="round" />
<line x1="1029.09" y1="838.56" x2="1041.23" y2="817.53" stroke="#000" stroke-width="2.5" stroke-linecap="round" />
<line x1="1066.45" y1="861.21" x2="1042.17" y2="861.21" stroke="#000" stroke-width="2.5" stroke-linecap="round" />
<line x1="1067.39" y1="817.53" x2="1079.53" y2="838.56" stroke="#000" stroke-width="2.5" stroke-linecap="round" />
<line x1="1092.07" y1="788.17" x2="1116.36" y2="788.17" stroke="#000" stroke-width="2.5" stroke-linecap="round" />
<line x1="1129.44" y1="810.83" x2="1117.29" y2="831.86" stroke="#000" stroke-width="2.5" stroke-linecap="round" />
<line x1="1167.2" y1="817.53" x2="1179.34" y2="838.56" stroke="#000" stroke-width="2.5" stroke-linecap="round" />
<line x1="1166.26" y1="861.21" x2="1141.98" y2="861.21" stroke="#000" stroke-width="2.5" stroke-linecap="round" />
<text x="52.2" y="664.9" font-family="Liberation Sans, sans-serif" font-size="21.3" fill="#000" font-weight="bold" font-style="italic" text-anchor="start"  textLength="154.6" lengthAdjust="spacingAndGlyphs">Phenanthrene</text>
<text x="361.2" y="664.9" font-family="Liberation Sans, sans-serif" font-size="21.3" fill="#000" font-weight="bold" font-style="italic" text-anchor="start"  textLength="151" lengthAdjust="spacingAndGlyphs">Tetrahelicene</text>
<text x="670" y="664.9" font-family="Liberation Sans, sans-serif" font-size="21.3" fill="#000" font-weight="bold" font-style="italic" text-anchor="start"  textLength="106.4" lengthAdjust="spacingAndGlyphs">Chrysene</text>
<text x="962" y="664.9" font-family="Liberation Sans, sans-serif" font-size="21.3" fill="#000" font-weight="bold" font-style="italic" text-anchor="start"  textLength="201.4" lengthAdjust="spacingAndGlyphs">Benzo[b]chrysene</text>
<text x="73.6" y="925" font-family="Liberation Sans, sans-serif" font-size="21.3" fill="#000" font-weight="bold" font-style="italic" text-anchor="start"  textLength="199.6" lengthAdjust="spacingAndGlyphs">Benzo[c]chrysene</text>
<text x="349.6" y="925" font-family="Liberation Sans, sans-serif" font-size="21.3" fill="#000" font-weight="bold" font-style="italic" text-anchor="start"  textLength="198.6" lengthAdjust="spacingAndGlyphs">benzo[g]chrysene</text>
<text x="633" y="925.3" font-family="Liberation Sans, sans-serif" font-size="21.3" fill="#000" font-weight="bold" font-style="italic" text-anchor="start"  textLength="242" lengthAdjust="spacingAndGlyphs">Dibenzo[g,p]chrysene</text>
<text x="981" y="925" font-family="Liberation Sans, sans-serif" font-size="21.3" fill="#000" font-weight="bold" font-style="italic" text-anchor="start"  textLength="166.3" lengthAdjust="spacingAndGlyphs">Benzo[f]picene</text>
<text x="153.5" y="515.8" font-family="Liberation Sans, sans-serif" font-size="21" fill="#ff0000" font-weight="bold" font-style="italic" text-anchor="start" >c</text>
<text x="243.3" y="567.1" font-family="Liberation Sans, sans-serif" font-size="21" fill="#ff0000" font-weight="bold" font-style="italic" text-anchor="start" >b</text>
<text x="203" y="639.2" font-family="Liberation Sans, sans-serif" font-size="21" fill="#ff0000" font-weight="bold" font-style="italic" text-anchor="start" >a</text>
<path d="M131.7,432.3 C128.5,441 127.4,452 130,463.5 C131.6,471 134.5,478 137.6,484 L128.7,488.2 L160.7,502.4 L158.6,470.3 L149.6,477.6 C144.5,469 139.6,459 136.6,450 C134.6,444 133.3,438 132.9,433.5 Z" fill="#89499a"/>
<path d="M137.6,484 L128.7,488.2 L160.7,502.4 L160,492.5 C152,491 144,488 137.6,484 Z" fill="#7b3d8e" opacity="0.75"/>
<path d="M132.6,433.5 C133.3,438 134.6,444 136.6,450 C139.6,459 144.5,469 149.6,477.6" fill="none" stroke="#c02e90" stroke-width="0.9" opacity="0.85"/>
<path d="M158.6,470.3 L160.7,502.4" fill="none" stroke="#b03a94" stroke-width="0.9" opacity="0.8"/>
<linearGradient id="gOb" gradientUnits="userSpaceOnUse" x1="314" y1="500" x2="268" y2="522"><stop offset="0" stop-color="#d63428"/><stop offset="0.35" stop-color="#dc6a3a"/><stop offset="1" stop-color="#e09a40"/></linearGradient>
<linearGradient id="gOh" gradientUnits="userSpaceOnUse" x1="256" y1="512" x2="284" y2="532"><stop offset="0" stop-color="#d6502c"/><stop offset="0.45" stop-color="#e08a38"/><stop offset="0.8" stop-color="#e6d648"/><stop offset="1" stop-color="#e8ec54"/></linearGradient>
<path d="M265.2,514.2 C273,508.5 281,504.2 290.4,501.1 C297,499.2 305,498.8 314.2,500.7 C309,503.5 306,505.2 303.8,506.4 C299,508 296,509.2 292.4,510.8 C287,513.5 284,516 281.6,518.2 C278.5,520.8 276.5,522.8 274.9,524.6 L268,528 Z" fill="url(#gOb)"/>
<path d="M251.1,542.4 L258.5,504.4 L265.2,514.2 C268,512 270,510.8 272,509.6 L283,516.8 C280,519.5 277,522.3 274.9,524.6 L286,531.6 Z" fill="url(#gOh)"/>
<path d="M311,502.6 C303,505.5 297,507.8 292.4,510.2 C286,513.4 280,518 274.9,523.8" fill="none" stroke="#f0a020" stroke-width="1.1" opacity="0.9"/>
<linearGradient id="gGt" gradientUnits="userSpaceOnUse" x1="226" y1="652" x2="258" y2="648"><stop offset="0" stop-color="#4cae4a"/><stop offset="0.55" stop-color="#a8d23c"/><stop offset="1" stop-color="#e4e23c"/></linearGradient>
<linearGradient id="gGb" gradientUnits="userSpaceOnUse" x1="244" y1="668" x2="262" y2="654"><stop offset="0" stop-color="#8fca3e"/><stop offset="0.6" stop-color="#cfe03c"/><stop offset="1" stop-color="#e2e23c"/></linearGradient>
<path d="M227.1,623.7 L260.6,642.1 L260.2,649 L224,629.7 Z" fill="#36a54e"/>
<path d="M248.2,651.2 L254.4,651 C259,657.5 267,664.5 276,670 C280,672.6 285,675.2 289.3,677.2 L284.4,682.3 C272,675 261,665.5 248.2,651.2 Z" fill="#3ca650"/>
<path d="M248.2,651.2 C258,663 270,673.5 284.4,681.7 L283.2,684.2 C268,679 252,670 238.4,656.9 Z" fill="url(#gGb)"/>
<path d="M224,629.7 L259.1,649.3 L248.2,651.2 L250.5,654 L238.4,656.9 L231.2,662.5 Z" fill="url(#gGt)"/>
</svg>
</body></html>
